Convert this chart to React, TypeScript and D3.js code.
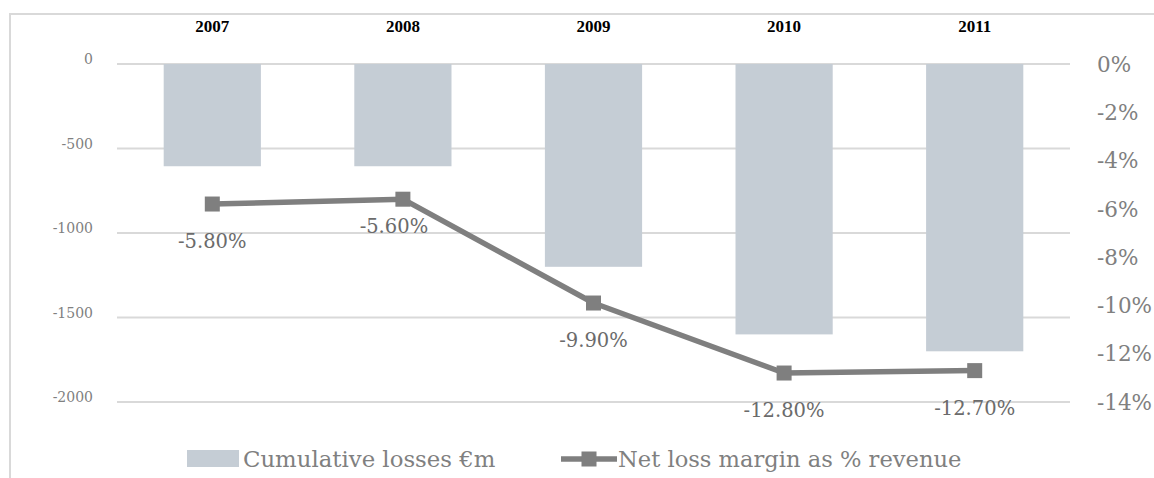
import React from "react";
import * as d3 from "d3";

const years = ["2007", "2008", "2009", "2010", "2011"];
const cumulativeLosses = [-605, -605, -1200, -1600, -1700];
const netLossMargin = [-5.8, -5.6, -9.9, -12.8, -12.7];
const leftTicks = [0, -500, -1000, -1500, -2000];
const rightTicks = [0, -2, -4, -6, -8, -10, -12, -14];
const legendLabels = ["Cumulative losses €m", "Net loss margin as % revenue"];

const W = 1154;
const H = 478;
const FONT = "DejaVu Serif, serif";
const BOLD_FONT = "Liberation Serif, DejaVu Serif, serif";
const BAR_COLOR = "#c5cdd5";
const LINE_COLOR = "#7f7f7f";
const GRID_COLOR = "#d9d9d9";
const AXIS_TEXT = "#808080";
const LABEL_TEXT = "#6b6b6b";

export default function App() {
  const x0 = 117, x1 = 1070, yTop = 64, yBottom = 402;
  const x = d3.scaleBand<string>().domain(years).range([x0, x1]).paddingInner(0.49).paddingOuter(0.245);
  const yL = d3.scaleLinear().domain([0, -2000]).range([yTop, yBottom]);
  const yR = d3.scaleLinear().domain([0, -14]).range([yTop, yBottom]);
  const cx = (y: string) => (x(y) as number) + x.bandwidth() / 2;

  const line = d3
    .line<number>()
    .x((_, i) => cx(years[i]))
    .y((d) => yR(d));

  // small label nudges (dx, dy) relative to the default placement below the marker
  const labelNudge: [number, number][] = [[0, 0], [-9, -10], [0, 0], [0, 0], [0, 0]];

  const mk = 15;
  const ts = { fontFamily: FONT };

  return (
    <svg
      width={W}
      height={H}
      style={{ position: "absolute", left: 0, top: 0, background: "#fff", fontFamily: FONT }}
    >
      <rect x={0} y={0} width={W} height={H} fill="#fff" />
      {/* frame */}
      <rect x={10} y={14} width={W + 50} height={H + 50} fill="none" stroke={GRID_COLOR} strokeWidth={2} />

      {/* gridlines */}
      {leftTicks.map((t) => (
        <line key={"g" + t} x1={x0} x2={x1} y1={yL(t)} y2={yL(t)} stroke={GRID_COLOR} strokeWidth={2} />
      ))}

      {/* left axis labels */}
      {leftTicks.map((t) => (
        <text key={"l" + t} style={ts} x={93} y={yL(t)} textAnchor="end" fontSize={14} fill={AXIS_TEXT}>
          {t}
        </text>
      ))}

      {/* right axis labels */}
      {rightTicks.map((t) => (
        <text key={"r" + t} style={ts} x={1097} y={yR(t)} dy="0.36em" textAnchor="start" fontSize={21.5} fill={AXIS_TEXT}>
          {t + "%"}
        </text>
      ))}

      {/* category labels at top */}
      {years.map((yv) => (
        <text
          key={"c" + yv}
          style={{ fontFamily: BOLD_FONT }}
          x={cx(yv)}
          y={32}
          textAnchor="middle"
          fontSize={17}
          fontWeight="bold"
          fill="#000"
        >
          {yv}
        </text>
      ))}

      {/* bars */}
      {years.map((yv, i) => (
        <rect
          key={"b" + yv}
          x={x(yv)}
          y={yL(0)}
          width={x.bandwidth()}
          height={yL(cumulativeLosses[i]) - yL(0)}
          fill={BAR_COLOR}
        />
      ))}

      {/* line */}
      <path d={line(netLossMargin) || ""} fill="none" stroke={LINE_COLOR} strokeWidth={5.5} strokeLinejoin="round" />
      {netLossMargin.map((v, i) => (
        <rect
          key={"m" + i}
          x={cx(years[i]) - mk / 2}
          y={yR(v) - mk / 2}
          width={mk}
          height={mk}
          fill={LINE_COLOR}
        />
      ))}

      {/* data labels */}
      {netLossMargin.map((v, i) => (
        <text
          key={"d" + i}
          style={ts}
          x={cx(years[i]) + labelNudge[i][0]}
          y={yR(v) + 44 + labelNudge[i][1]}
          textAnchor="middle"
          fontSize={19.5}
          fill={LABEL_TEXT}
        >
          {v.toFixed(2) + "%"}
        </text>
      ))}

      {/* legend */}
      <g>
        <rect x={187} y={450} width={52} height={17} fill={BAR_COLOR} />
        <text style={ts} x={243} y={467} fontSize={22.8} fill={AXIS_TEXT}>
          {legendLabels[0]}
        </text>
        <line x1={561} x2={617} y1={459} y2={459} stroke={LINE_COLOR} strokeWidth={5.5} />
        <rect x={589 - mk / 2} y={459 - mk / 2} width={mk} height={mk} fill={LINE_COLOR} />
        <text style={ts} x={618} y={467} fontSize={22.6} fill={AXIS_TEXT}>
          {legendLabels[1]}
        </text>
      </g>
    </svg>
  );
}
